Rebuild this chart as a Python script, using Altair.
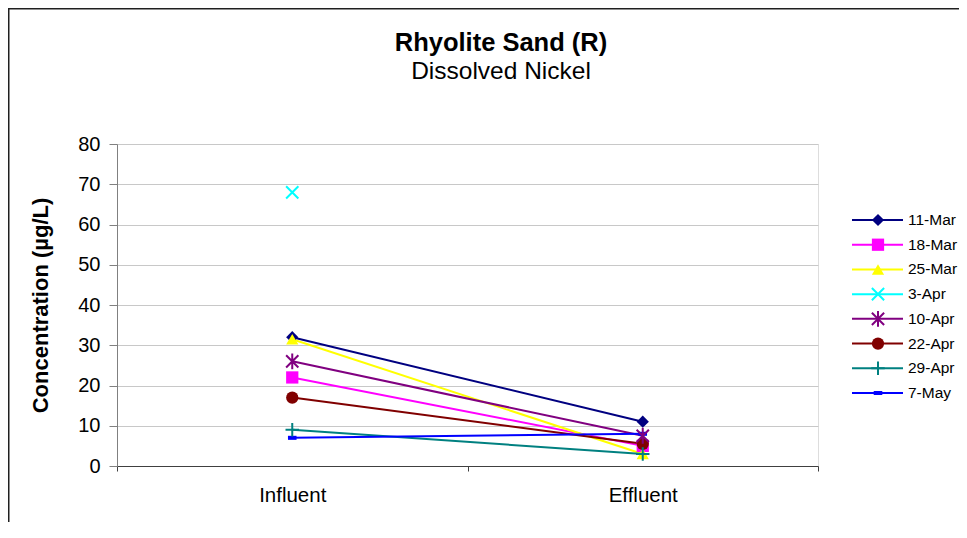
import altair as alt
import pandas as pd

series = ["11-Mar", "18-Mar", "25-Mar", "3-Apr", "10-Apr", "22-Apr", "29-Apr", "7-May"]
positions = ["Influent", "Effluent"]
influent = [32, 22, 31.5, 68, 26, 17, 9, 7]
effluent = [11, 5, 3, None, 7.5, 5.5, 3, 8]
colors = ["#000080", "#FF00FF", "#FFFF00", "#00FFFF", "#800080", "#800000", "#008080", "#0000FF"]

X_PATH = "M-1,-1L1,1M-1,1L1,-1"
AST_PATH = "M-1,-1L1,1M-1,1L1,-1M0,-1.3L0,1.3"
PLUS_PATH = "M-1.1,0L1.1,0M0,-1.1L0,1.1"
DASH_PATH = "M-0.7,-0.33H0.7V0.33H-0.7Z"
shapes = ["diamond", "square", "triangle-up", X_PATH, AST_PATH, "circle", PLUS_PATH, DASH_PATH]
filled_flags = [True, True, True, False, False, True, False, True]

rows = []
for i, s in enumerate(series):
    for pos, v in zip(positions, [influent[i], effluent[i]]):
        if v is not None:
            rows.append({"series": s, "position": pos, "value": v,
                         "filled": filled_flags[i], "order": i})
df = pd.DataFrame(rows)
legend_df = pd.DataFrame({"series": series, "filled": filled_flags})

FONT = "Liberation Sans"
MARKER = 150

color_scale = alt.Scale(domain=series, range=colors)
shape_scale = alt.Scale(domain=series, range=shapes)

x_enc = alt.X("position:N", sort=positions,
              scale=alt.Scale(type="band", paddingInner=0, paddingOuter=0),
              axis=alt.Axis(title=None, labelAngle=0, tickBand="extent", tickSize=5,
                            labelPadding=14, labelFontSize=20.5, labelFont=FONT,
                            labelColor="#000000", domainColor="#404040",
                            tickColor="#404040", domainWidth=1.2, grid=False))
y_enc = alt.Y("value:Q", scale=alt.Scale(domain=[0, 80], nice=False),
              axis=alt.Axis(values=list(range(0, 81, 10)), title="Concentration (µg/L)",
                            titleFont=FONT, titleFontSize=22, titleFontWeight="bold",
                            titleColor="#000000", titlePadding=25,
                            labelFont=FONT, labelFontSize=20, labelColor="#000000",
                            labelPadding=9, tickSize=8, tickColor="#808080",
                            domainColor="#808080", gridColor="#C8C8C8", grid=True))

base = alt.Chart(df)

lines = base.mark_line(strokeWidth=2, opacity=1).encode(
    x=x_enc, y=y_enc,
    stroke=alt.Stroke("series:N", scale=color_scale, legend=None),
    detail="series:N",
    order="order:Q",
)

filled_pts = base.transform_filter("datum.filled").mark_point(
    filled=True, size=MARKER, opacity=1
).encode(
    x=x_enc, y=y_enc,
    fill=alt.Fill("series:N", scale=color_scale, legend=None),
    shape=alt.Shape("series:N", scale=shape_scale, legend=None),
)

stroke_pts = base.transform_filter("!datum.filled").mark_point(
    filled=False, size=MARKER, opacity=1, strokeWidth=2
).encode(
    x=x_enc, y=y_enc,
    stroke=alt.Stroke("series:N", scale=color_scale, legend=None),
    shape=alt.Shape("series:N", scale=shape_scale, legend=None),
)

border = alt.Chart(alt.Data(values=[{"k": 1}])).mark_rect(
    fill="transparent", stroke="#202020", strokeWidth=1.5
).encode(
    x=alt.value(-108.25), x2=alt.value(900), y=alt.value(-135.25), y2=alt.value(420)
)

main = alt.layer(border, lines, filled_pts, stroke_pts)

# ---- legend (line + marker + label per series), rows placed by a point scale ----
leg_y = alt.Y("series:N", sort=series, axis=None,
              scale=alt.Scale(type="point", domain=series, range=[76, 249], padding=0))
lbase = alt.Chart(legend_df)

leg_lines = lbase.mark_rule(strokeWidth=2).encode(
    x=alt.value(735), x2=alt.value(786), y=leg_y,
    stroke=alt.Stroke("series:N", scale=color_scale, legend=None),
)
leg_filled = lbase.transform_filter("datum.filled").mark_point(
    filled=True, size=MARKER, opacity=1
).encode(
    x=alt.value(761), y=leg_y,
    fill=alt.Fill("series:N", scale=color_scale, legend=None),
    shape=alt.Shape("series:N", scale=shape_scale, legend=None),
)
leg_stroke = lbase.transform_filter("!datum.filled").mark_point(
    filled=False, size=MARKER, opacity=1, strokeWidth=2
).encode(
    x=alt.value(761), y=leg_y,
    stroke=alt.Stroke("series:N", scale=color_scale, legend=None),
    shape=alt.Shape("series:N", scale=shape_scale, legend=None),
)
leg_text = lbase.mark_text(align="left", baseline="middle", font=FONT,
                           fontSize=15.5, color="#000000").encode(
    x=alt.value(791), y=leg_y, text="series:N",
)

legend_layer = alt.layer(leg_lines, leg_filled, leg_stroke, leg_text)

chart = alt.layer(main, legend_layer).resolve_scale(
    y="independent"
).properties(
    width=701, height=322,
    autosize=alt.AutoSizeParams(type="none"),
    padding={"left": 109, "top": 136, "right": 141, "bottom": 56},
    title=alt.TitleParams(
        text="Rhyolite Sand (R)", subtitle="Dissolved Nickel",
        font=FONT, fontSize=25.5, fontWeight="bold", color="#000000",
        subtitleFont=FONT, subtitleFontSize=24.5, subtitleColor="#000000",
        subtitlePadding=3, anchor="middle", frame="group", dx=33.5, offset=-75,
    ),
).configure_view(stroke=None).configure(background="white")

chart.save("out.html", embed_options={"renderer": "svg", "actions": False})
